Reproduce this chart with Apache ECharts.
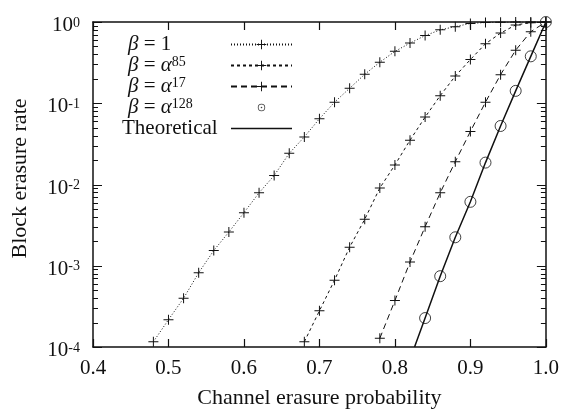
<!DOCTYPE html>
<html><head><meta charset="utf-8">
<script src="https://cdn.jsdelivr.net/npm/echarts@6/dist/echarts.min.js"></script>
<style>html,body{margin:0;padding:0;background:#fff}#c{width:562px;height:414px}</style>
</head><body><div id="c"></div>
<script>
// ---- data ----
const beta1X = [0.48,0.50,0.52,0.54,0.56,0.58,0.60,0.62,0.64,0.66,0.68,0.70,0.72,0.74,0.76,0.78,0.80,0.82,0.84,0.86,0.88,0.90,0.92,0.94,0.96,0.98,1.00];
const beta1Y = [1.16e-4,2.17e-4,3.98e-4,8.2e-4,1.54e-3,2.6e-3,4.5e-3,7.9e-3,0.0129,0.0242,0.0385,0.0644,0.103,0.153,0.227,0.32,0.435,0.55,0.68,0.80,0.877,0.96,0.985,0.995,0.999,1.0,1.0];
const beta85X = [0.68,0.70,0.72,0.74,0.76,0.78,0.80,0.82,0.84,0.86,0.88,0.90,0.92,0.94,0.96,0.98,1.00];
const beta85Y = [1.16e-4,2.79e-4,6.65e-4,1.69e-3,3.73e-3,9.06e-3,0.0174,0.0351,0.0675,0.124,0.216,0.345,0.54,0.73,0.92,0.98,1.0];
const beta17X = [0.78,0.80,0.82,0.84,0.86,0.88,0.90,0.92,0.94,0.96,0.98,1.00];
const beta17Y = [1.28e-4,3.73e-4,1.11e-3,3.02e-3,7.9e-3,0.0191,0.045,0.103,0.225,0.45,0.76,1.0];
const beta128X = [0.84,0.86,0.88,0.90,0.92,0.94,0.96,0.98,1.00];
const beta128Y = [2.27e-4,7.44e-4,2.24e-3,6.12e-3,0.0186,0.0525,0.142,0.378,1.0];
const theoX = [0.826,0.84,0.86,0.88,0.90,0.92,0.94,0.96,0.98,1.00];
const theoY = [1.0e-4,2.27e-4,7.44e-4,2.24e-3,6.12e-3,0.0186,0.0525,0.142,0.378,1.0];
const xTicks = [0.4,0.5,0.6,0.7,0.8,0.9,1.0];
const yMajorTickValues = [1e-4,1e-3,1e-2,1e-1,1];
const minorTickValues = [2e-4,3e-4,4e-4,5e-4,6e-4,7e-4,8e-4,9e-4,2e-3,3e-3,4e-3,5e-3,6e-3,7e-3,8e-3,9e-3,2e-2,3e-2,4e-2,5e-2,6e-2,7e-2,8e-2,9e-2,0.2,0.3,0.4,0.5,0.6,0.7,0.8,0.9];
const seriesNames = ['b1','b85','b17','b128','th'];
const xTitle = 'Channel erasure probability';
const yTitle = 'Block erasure rate';

// ---- chart ----
const F = '"Liberation Serif","DejaVu Serif",serif';
const C = '#111';
const X_MIN = 0.4, X_MAX = 1.0;
const pairs = (xs, ys) => xs.map((x, i) => [x, ys[i]]);
const PLUS = 'path://M4.5,0H5.5V4.5H10V5.5H5.5V10H4.5V5.5H0V4.5H4.5Z';
const RING = 'path://M0,0L0,0M12,12L12,12M6,2.3A3.7,3.7 0 1,1 6,9.7A3.7,3.7 0 1,1 6,2.3ZM6,3.1A2.9,2.9 0 1,0 6,8.9A2.9,2.9 0 1,0 6,3.1ZM6,5.2A0.8,0.8 0 1,1 6,6.8A0.8,0.8 0 1,1 6,5.2Z';

const legendText = {
  b1: '{f|β}{t| = 1}',
  b85: '{f|β}{t| = }{m|α}{s|85}',
  b17: '{f|β}{t| = }{m|α}{s|17}',
  b128: '{f|β}{t| = }{m|α}{s|128}',
  th: '{r|Theoretical}'
};

const tickData = yMajorTickValues.map(v => [v, 9]).concat(minorTickValues.map(v => [v, 5]));

const chart = echarts.init(document.getElementById('c'), null, {renderer: 'canvas'});
const axisLine = {show: true, lineStyle: {color: C, width: 1.5}};
const common = {min: X_MIN, max: X_MAX, interval: 0.1, splitLine: {show: false}};
const yCommon = {type: 'log', logBase: 10, min: 1e-4, max: 1, splitLine: {show: false}, minorTick: {show: false}, axisTick: {show: false}};

chart.setOption({
  animation: false,
  backgroundColor: '#fff',
  grid: {left: 93, right: 14, top: 22, bottom: 63, containLabel: false},
  xAxis: [
    Object.assign({type: 'value', position: 'bottom', axisLine,
      axisTick: {inside: true, length: 8, lineStyle: {color: C, width: 1.2}},
      axisLabel: {margin: 11, fontFamily: F, fontSize: 21, color: C, formatter: v => v.toFixed(1)},
      name: xTitle, nameLocation: 'middle', nameGap: 40,
      nameTextStyle: {fontFamily: F, fontSize: 22, color: C}}, common),
    Object.assign({type: 'value', position: 'top', axisLine,
      axisTick: {inside: true, length: 8, lineStyle: {color: C, width: 1.2}},
      axisLabel: {show: false}}, common)
  ],
  yAxis: [
    Object.assign({position: 'left', axisLine,
      axisLabel: {margin: 13, color: C,
        formatter: v => '{b|10}{s|' + Math.round(Math.log10(v)) + '}',
        rich: {
          b: {fontFamily: F, fontSize: 21, lineHeight: 20, color: C, padding: [7, 0, 0, 0]},
          s: {fontFamily: F, fontSize: 14, lineHeight: 14, color: C, verticalAlign: 'top', padding: [4, 0, 0, 0]}
        }},
      name: yTitle, nameLocation: 'middle', nameGap: 62,
      nameTextStyle: {fontFamily: F, fontSize: 22, color: C, padding: [0, 0, 0, 12]}}, yCommon),
    Object.assign({position: 'right', axisLine, axisLabel: {show: false}}, yCommon)
  ],
  legend: {
    orient: 'vertical', left: 122, top: 34, padding: 0, itemGap: 0,
    itemWidth: 61, itemHeight: 12, align: 'right', selectedMode: false,
    data: [
      {name: 'b1'}, {name: 'b85'}, {name: 'b17'},
      {name: 'b128', icon: RING, itemStyle: {color: C, borderWidth: 0}},
      {name: 'th', icon: 'path://M0,0H61V1.6H0Z', itemStyle: {color: C, borderWidth: 0}}
    ],
    formatter: n => legendText[n],
    textStyle: {
      fontFamily: F, fontSize: 21, color: C, width: 104, lineHeight: 21,
      rich: {
        f: {fontFamily: F, fontSize: 21, fontStyle: 'italic', lineHeight: 21, align: 'left', color: C, padding: [0, 0, 0, 6]},
        m: {fontFamily: F, fontSize: 21, fontStyle: 'italic', lineHeight: 21, align: 'left', color: C},
        t: {fontFamily: F, fontSize: 21, lineHeight: 21, align: 'left', color: C},
        s: {fontFamily: F, fontSize: 14, lineHeight: 12, verticalAlign: 'top', align: 'left', color: C},
        r: {fontFamily: F, fontSize: 21, lineHeight: 21, align: 'left', color: C}
      }
    }
  },
  series: [
    {name: seriesNames[0], type: 'line', data: pairs(beta1X, beta1Y), symbol: PLUS, symbolSize: 10,
     lineStyle: {color: C, width: 1, type: [1, 2]}, itemStyle: {color: C}, z: 3},
    {name: seriesNames[1], type: 'line', data: pairs(beta85X, beta85Y), symbol: PLUS, symbolSize: 10,
     lineStyle: {color: C, width: 1, type: [3, 3]}, itemStyle: {color: C}, z: 3},
    {name: seriesNames[2], type: 'line', data: pairs(beta17X, beta17Y), symbol: PLUS, symbolSize: 10,
     lineStyle: {color: C, width: 1, type: [6, 4]}, itemStyle: {color: C}, z: 3},
    {name: seriesNames[3], type: 'scatter', data: pairs(beta128X, beta128Y), symbol: 'circle', symbolSize: 11,
     itemStyle: {color: 'rgba(0,0,0,0)', borderColor: C, borderWidth: 1}, z: 4},
    {name: seriesNames[4], type: 'line', data: pairs(theoX, theoY), symbol: 'none',
     lineStyle: {color: C, width: 1.5}, z: 3},
    // y-axis tick marks (log scale) on both frame sides, placed through the log axis
    {type: 'custom', name: 'yticks', silent: true, clip: false, z: 5,
     data: tickData, encode: {y: 0},
     renderItem: (params, api) => {
       const v = api.value(0), len = api.value(1);
       const pL = api.coord([X_MIN, v]), pR = api.coord([X_MAX, v]);
       const y = Math.round(pL[1]) + 0.5;
       const st = {stroke: C, lineWidth: 1};
       return {type: 'group', children: [
         {type: 'line', shape: {x1: pL[0], y1: y, x2: pL[0] + len, y2: y}, style: st},
         {type: 'line', shape: {x1: pR[0], y1: y, x2: pR[0] - len, y2: y}, style: st}
       ]};
     }}
  ]
});
</script>
</body></html>
